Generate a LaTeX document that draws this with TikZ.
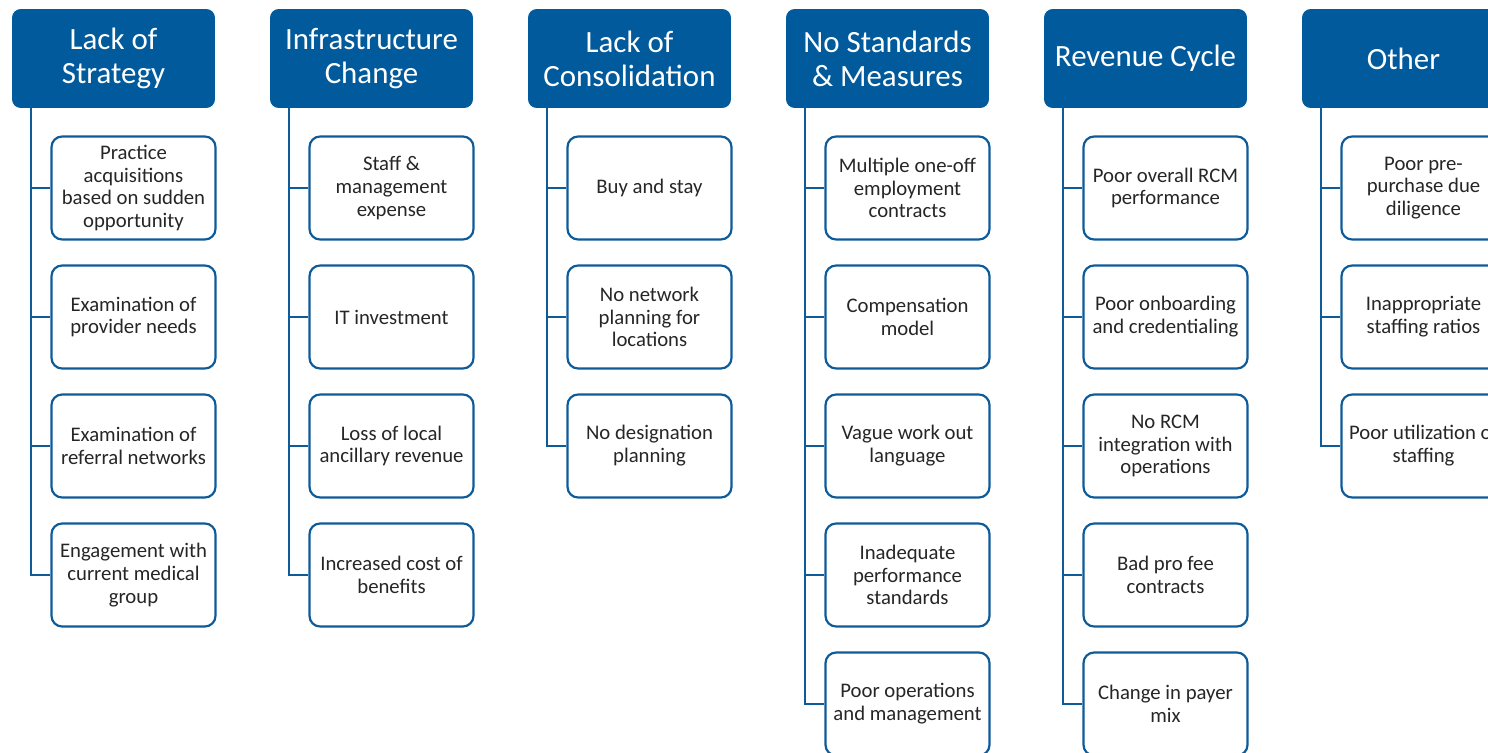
\documentclass[tikz,border=0pt]{standalone}
\usepackage{fontspec}
\setmainfont{Carlito}
\definecolor{hdrblue}{HTML}{005A9C}
\definecolor{lineblue}{HTML}{0E5B9A}
\definecolor{itemtext}{HTML}{262626}
\begin{document}
\begin{tikzpicture}[x=0.02cm,y=-0.02cm,
  header/.style={rectangle,rounded corners=5pt,fill=hdrblue,text=white,
    minimum width=4.06cm,minimum height=1.98cm,inner sep=0pt,align=center,
    font=\fontsize{17.6}{19.3}\selectfont},
  item/.style={rectangle,rounded corners=6pt,draw=lineblue,line width=1.25pt,fill=white,
    text=itemtext,minimum width=3.28cm,minimum height=2.06cm,inner sep=0pt,align=center,
    font=\fontsize{11.8}{13}\selectfont},
  trunk/.style={draw=lineblue,line width=1.25pt}]
\useasboundingbox (0,0) rectangle (1488,753);
\clip (0,0) rectangle (1488,753);

% category headers
\node[header] (h1) at (113.5,58.5) {Lack of\\Strategy};
\node[header] (h2) at (371.5,58.5) {Infrastructure\\Change};
\node[header] (h3) at (629.5,58.5) {Lack of\\Consolidation};
\node[header] (h4) at (887.5,58.5) {No Standards\\\& Measures};
\node[header] (h5) at (1145.5,58.5) {Revenue Cycle};
\node[header] (h6) at (1403.5,58.5) {Other};

% items, column 1
\node[item] (c11) at (133.5,188) {Practice\\acquisitions\\based on sudden\\opportunity};
\node[item] (c12) at (133.5,317) {Examination of\\provider needs};
\node[item] (c13) at (133.5,446) {Examination of\\referral networks};
\node[item] (c14) at (133.5,575) {Engagement with\\current medical\\group};
% column 2
\node[item] (c21) at (391.5,188) {Staff \&\\management\\expense};
\node[item] (c22) at (391.5,317) {IT investment};
\node[item] (c23) at (391.5,446) {Loss of local\\ancillary revenue};
\node[item] (c24) at (391.5,575) {Increased cost of\\benefits};
% column 3
\node[item] (c31) at (649.5,188) {Buy and stay};
\node[item] (c32) at (649.5,317) {No network\\planning for\\locations};
\node[item] (c33) at (649.5,446) {No designation\\planning};
% column 4
\node[item] (c41) at (907.5,188) {Multiple one-off\\employment\\contracts};
\node[item] (c42) at (907.5,317) {Compensation\\model};
\node[item] (c43) at (907.5,446) {Vague work out\\language};
\node[item] (c44) at (907.5,575) {Inadequate\\performance\\standards};
\node[item] (c45) at (907.5,704) {Poor operations\\and management};
% column 5
\node[item] (c51) at (1165.5,188) {Poor overall RCM\\performance};
\node[item] (c52) at (1165.5,317) {Poor onboarding\\and credentialing};
\node[item] (c53) at (1165.5,446) {No RCM\\integration with\\operations};
\node[item] (c54) at (1165.5,575) {Bad pro fee\\contracts};
\node[item] (c55) at (1165.5,704) {Change in payer\\mix};
% column 6
\node[item] (c61) at (1423.5,188) {Poor pre-\\purchase due\\diligence};
\node[item] (c62) at (1423.5,317) {Inappropriate\\staffing ratios};
\node[item] (c63) at (1423.5,446) {Poor utilization of\\staffing};

% trunks and branches
\foreach \h/\items in {h1/{c11,c12,c13,c14},h2/{c21,c22,c23,c24},h3/{c31,c32,c33},
    h4/{c41,c42,c43,c44,c45},h5/{c51,c52,c53,c54,c55},h6/{c61,c62,c63}}{
  \coordinate (\h-root) at ([xshift=0.38cm]\h.south west);
  \foreach \c in \items{
    \draw[trunk] (\h-root) |- (\c.west);
  }
}
\end{tikzpicture}
\end{document}
